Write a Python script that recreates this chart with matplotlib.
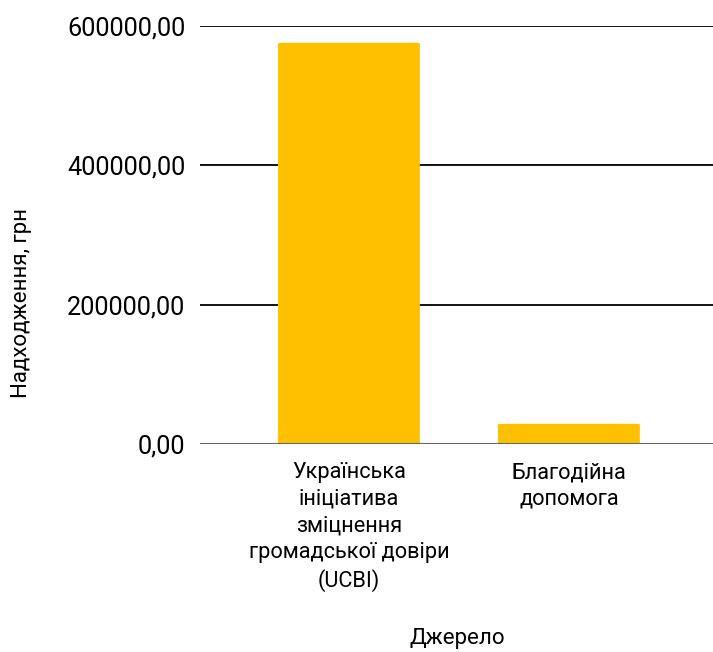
import matplotlib
matplotlib.use('Agg')
import matplotlib.pyplot as plt
from matplotlib.patches import FancyBboxPatch
from matplotlib.ticker import FuncFormatter

# джерела надходжень
dzherela = ['Українська\nініціатива\nзміцнення\nгромадської довіри\n(UCBI)',
            'Благодійна\nдопомога']
suma = [576000, 29000]
y_ticks = [0, 200000, 400000, 600000]

plt.rcParams['font.family'] = ['Roboto', 'DejaVu Sans']

fig = plt.figure(figsize=(7.13, 6.52), dpi=100)
ax = fig.add_axes([0.2805, 0.319, 0.7195, 0.641])

x = list(range(len(dzherela)))
bars = ax.bar(x, suma, width=0.645, color='#FFC000', zorder=3)

# трохи закруглені кути зверху
for b in bars:
    b.set_visible(False)
    p = FancyBboxPatch((b.get_x(), 0), b.get_width(), b.get_height(),
                       boxstyle='round,pad=0,rounding_size=0.02',
                       mutation_aspect=60000 / 1, color='#FFC000', zorder=3,
                       linewidth=0)
    ax.add_patch(p)

ax.set_xlim(-0.677, 1.655)
ax.set_ylim(0, 600000)
ax.set_yticks(y_ticks)
ax.yaxis.set_major_formatter(FuncFormatter(lambda v, pos: f'{v:.2f}'.replace('.', ',')))
ax.set_xticks(x)
ax.set_xticklabels(dzherela, fontsize=15.7, linespacing=1.35)

ax.grid(axis='y', color='black', linewidth=1.3, zorder=0)
ax.axhline(0, color='#666666', linewidth=1.5, zorder=4)
for s in ax.spines.values():
    s.set_visible(False)
ax.tick_params(axis='both', length=0)
ax.tick_params(axis='y', pad=10.5, labelsize=18.2)
ax.tick_params(axis='x', pad=13, labelsize=15.7)

ax.set_ylabel('Надходження, грн', fontsize=16, labelpad=0)
ax.yaxis.set_label_coords(-0.3275, 0.337)
ax.set_xlabel('Джерело', fontsize=16)
ax.xaxis.set_label_coords(0.502, -0.44)

fig.savefig('out.png', dpi=100)
